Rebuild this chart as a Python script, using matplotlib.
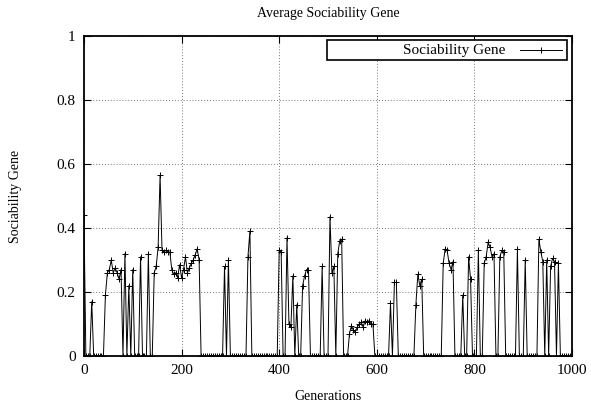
import matplotlib.pyplot as plt
import numpy as np
from matplotlib.patches import Rectangle
from matplotlib.lines import Line2D

plt.rcParams['font.family'] = ['Liberation Serif', 'DejaVu Serif']

# one sample every 4 generations, 0..1000
generations = np.arange(0, 1001, 4)
gene = [
    0.44, 0, 0, 0, 0.17, 0, 0, 0, 0, 0, 0, 0.19, 0.26, 0.27, 0.30, 0.26, 0.275, 0.26, 0.24, 0.27, 0, 0.32, 0, 0.22, 0,
    0.27, 0, 0, 0, 0.31, 0, 0, 0, 0.32, 0, 0, 0.26, 0.28, 0.34, 0.565, 0.33, 0.325, 0.33, 0.325, 0.325, 0.27, 0.255, 0.26, 0.245, 0.285,
    0.245, 0.27, 0.31, 0.26, 0.275, 0.29, 0.30, 0.316, 0.335, 0.30, 0, 0, 0, 0, 0, 0, 0, 0, 0, 0, 0, 0, 0.28, 0, 0.30,
    0, 0, 0, 0, 0, 0, 0, 0, 0, 0.31, 0.39, 0, 0, 0, 0, 0, 0, 0, 0, 0, 0, 0, 0, 0, 0,
    0.33, 0.325, 0, 0, 0.37, 0.10, 0.09, 0.25, 0, 0.16, 0, 0, 0.22, 0.25, 0.27, 0.27, 0, 0, 0, 0, 0, 0, 0.28, 0, 0,
    0, 0.435, 0.26, 0.28, 0, 0.32, 0.36, 0.365, 0, 0, 0, 0.07, 0.095, 0.08, 0.075, 0.09, 0.10, 0.105, 0.09, 0.11, 0.105, 0.11, 0.10, 0.10, 0,
    0, 0, 0, 0, 0, 0, 0, 0.165, 0, 0.23, 0.23, 0, 0, 0, 0, 0, 0, 0, 0, 0, 0.16, 0.255, 0.22, 0.24, 0,
    0, 0, 0, 0, 0, 0, 0, 0, 0, 0.29, 0.335, 0.33, 0.29, 0.27, 0.295, 0, 0, 0, 0, 0.19, 0, 0, 0.31, 0.24, 0,
    0, 0, 0.33, 0, 0, 0.29, 0.31, 0.355, 0.34, 0.31, 0.32, 0, 0, 0.31, 0.33, 0.325, 0, 0, 0, 0, 0, 0, 0.335, 0, 0,
    0, 0.30, 0, 0, 0, 0, 0, 0, 0.365, 0.325, 0.295, 0, 0.30, 0, 0.28, 0.305, 0.295, 0, 0.29, 0, 0, 0, 0, 0, 0, 0,
]

fig = plt.figure(figsize=(5.91, 4.11), dpi=100)
ax = fig.add_axes([0.142, 0.134, 0.826, 0.778])

ax.plot(generations, gene, color='black', linewidth=0.7,
        marker='+', markersize=5, markeredgewidth=0.7)

ax.set_xlim(0, 1000)
ax.set_ylim(0, 1)
ax.set_xticks([0, 200, 400, 600, 800, 1000])
ax.set_yticks([0, 0.2, 0.4, 0.6, 0.8, 1])
ax.set_yticklabels(['0', '0.2', '0.4', '0.6', '0.8', '1'])
ax.tick_params(direction='in', top=True, right=True, length=5, width=0.8,
               labelsize=11, pad=6)
ax.grid(True, linestyle=(0, (1, 2)), color='#777777', linewidth=0.7)
for s in ax.spines.values():
    s.set_linewidth(1.3)

ax.set_title('Average Sociability Gene', fontsize=10, pad=14)
ax.set_xlabel('Generations', fontsize=10, labelpad=9)
ax.set_ylabel('Sociability Gene', fontsize=10, labelpad=25)

# gnuplot-style key: text first, then the line sample
ax.add_patch(Rectangle((0.498, 0.925), 0.492, 0.0625, transform=ax.transAxes,
                       facecolor='white', edgecolor='black', linewidth=1.2, zorder=5))
ax.text(0.863, 0.956, 'Sociability Gene', transform=ax.transAxes,
        ha='right', va='center', fontsize=11, zorder=6)
ax.add_line(Line2D([0.893, 0.98], [0.956, 0.956], transform=ax.transAxes,
                   color='black', linewidth=0.7, zorder=6))
ax.add_line(Line2D([0.9365], [0.956], transform=ax.transAxes, color='black',
                   marker='+', markersize=5, markeredgewidth=0.7, zorder=6))

fig.savefig('out.png', dpi=100)
